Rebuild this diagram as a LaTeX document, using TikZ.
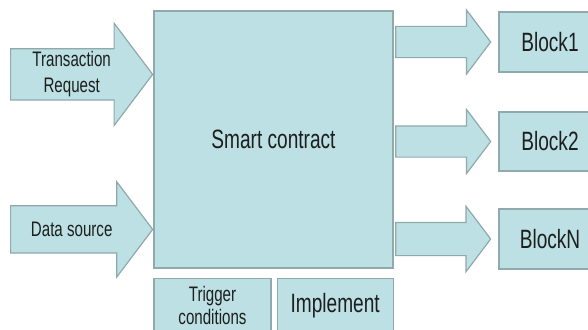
\documentclass[tikz,border=0pt]{standalone}
\usepackage{fontspec}
\setmainfont{Liberation Sans}[FakeStretch=0.72]
\usetikzlibrary{positioning,calc,shapes.arrows}
\definecolor{boxfill}{HTML}{BCE0E3}
\definecolor{boxline}{HTML}{8FA9AC}
\definecolor{ink}{HTML}{1E1E1E}
\tikzset{block/.style={draw=boxline,fill=boxfill,line width=1.2pt,align=center,text=ink,inner sep=0pt},
         fat/.style={single arrow,draw=boxline,fill=boxfill,line width=1.2pt,inner xsep=0pt,
                     single arrow tip angle=106,single arrow head indent=0pt},
         bigtext/.style={font=\fontsize{26.5}{30}\selectfont},
         smalltext/.style={font=\fontsize{21}{26}\selectfont,text=ink,align=center}
}

\begin{document}
\begin{tikzpicture}[x=1pt,y=-1pt]
\useasboundingbox (0,0) rectangle (588,329);

% the contract and what sits under it
\node[block,bigtext,minimum width=239pt,minimum height=257pt] (contract) at (273.5,139.5) {Smart contract};
\node[block,smalltext,font=\fontsize{21}{23}\selectfont,minimum width=117pt,minimum height=55pt,
      below right=9pt and 0pt of contract.south west] (trigger) {Trigger\\conditions};
\node[block,bigtext,minimum width=116pt,minimum height=55pt,right=5pt of trigger] (implement) {Implement};

% inputs
\node[fat,minimum height=142pt,inner ysep=25pt,single arrow head extend=25.5pt,anchor=tip]
      (txarrow) at ($(contract.north west)+(0,-64pt)$) {};
\node[fat,minimum height=142pt,inner ysep=23pt,single arrow head extend=24pt,anchor=tip]
      (dataarrow) at ($(contract.north west)+(0,-219pt)$) {};
\node[smalltext] (txtext) at ($(txarrow.tail)!0.43!(txarrow.tip)$) {Transaction\\Request};
\node[smalltext] (datatext) at ($(dataarrow.tail)!0.43!(dataarrow.tip)$) {Data source};

% blocks
\node[block,bigtext,minimum width=102pt,minimum height=60pt] (block1) at (550,42) {Block1};
\node[block,bigtext,minimum width=102pt,minimum height=59pt] (block2) at (550,141.5) {Block2};
\node[block,bigtext,minimum width=102pt,minimum height=60pt] (blockn) at (550,239) {BlockN};
\node[fat,minimum height=95pt,inner ysep=15pt,single arrow head extend=16.5pt,anchor=tip]
      (arrow1) at ($(block1.west)+(-7pt,0)$) {};
\node[fat,minimum height=95pt,inner ysep=15pt,single arrow head extend=16.5pt,anchor=tip]
      (arrow2) at ($(block2.west)+(-7pt,0)$) {};
\node[fat,minimum height=95pt,inner ysep=16pt,single arrow head extend=16pt,anchor=tip]
      (arrown) at ($(blockn.west)+(-7pt,0)$) {};

\end{tikzpicture}
\end{document}
